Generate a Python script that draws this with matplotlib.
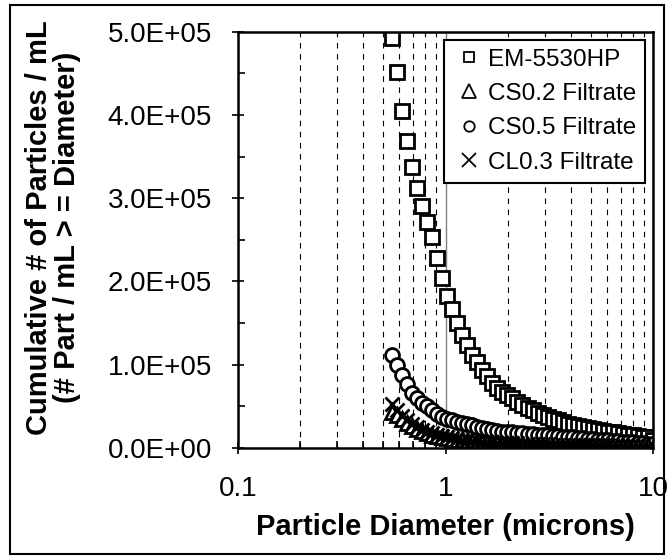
import numpy as np
import matplotlib
matplotlib.use("Agg")
import matplotlib.pyplot as plt
from matplotlib.ticker import FixedLocator, FuncFormatter, MultipleLocator, NullFormatter
from matplotlib.patches import Rectangle

plt.rcParams['font.family'] = ['Liberation Sans', 'DejaVu Sans']

# particle diameter bins (microns)
diameter = [0.550, 0.582, 0.615, 0.650, 0.688, 0.727, 0.769, 0.813, 0.860, 0.909,
            0.961, 1.016, 1.074, 1.136, 1.201, 1.270, 1.343, 1.420, 1.501, 1.587,
            1.679, 1.775, 1.877, 1.984, 2.098, 2.218, 2.345, 2.480, 2.622, 2.773,
            2.932, 3.100, 3.278, 3.465, 3.664, 3.875, 4.097, 4.332, 4.580, 4.843,
            5.121, 5.414, 5.725, 6.053, 6.401, 6.768, 7.156, 7.567, 8.001, 8.459,
            8.945, 9.458, 10.00]

# cumulative counts, thousands of particles / mL
em5530hp = [492, 452, 405, 369, 337, 312, 291, 271, 253, 228,
            204, 182, 167, 150, 135, 124, 112, 103, 94, 86,
            78, 72, 67, 63, 60, 55, 51, 48, 45, 42,
            39, 37, 35, 33, 31, 29, 27.5, 26, 24.5, 23.5,
            22.5, 21.5, 20.5, 19.5, 18.5, 17.5, 16.5, 15.5, 15, 14,
            13.5, 12.5, 10]
cs05 = [112, 99, 88, 77, 66, 60, 54, 50, 45, 41,
        37, 35, 33, 31.5, 30, 28.5, 27, 25.5, 24, 22.5,
        21, 20, 19.5, 19, 18.5, 18, 17.5, 17, 16.5, 16,
        15.5, 15, 14.5, 14, 13.5, 13, 12.5, 12, 11.5, 11,
        10.5, 10, 9.5, 9, 8.5, 8, 7.5, 7, 6.5, 6,
        5.5, 5, 4]
cl03 = [53, 46, 38, 33, 29, 25, 22, 19.5, 17.5, 15.5,
        14, 12.5, 11.5, 10.5, 9.8, 9.2, 8.6, 8.0, 7.5, 7.1,
        6.7, 6.4, 6.1, 5.8, 5.5, 5.3, 5.1, 4.9, 4.7, 4.5,
        4.3, 4.1, 3.9, 3.8, 3.7, 3.6, 3.5, 3.4, 3.3, 3.2,
        3.1, 3.0, 2.9, 2.8, 2.7, 2.6, 2.5, 2.4, 2.3, 2.2,
        2.1, 2.0, 1.8]
cs02 = [43, 40, 35, 30, 26, 23, 20, 18, 16, 14.5,
        13, 11.8, 10.8, 10, 9.3, 8.7, 8.1, 7.6, 7.1, 6.7,
        6.3, 6.0, 5.7, 5.4, 5.2, 5.0, 4.8, 4.6, 4.4, 4.2,
        4.0, 3.9, 3.7, 3.6, 3.5, 3.4, 3.3, 3.2, 3.1, 3.0,
        2.9, 2.8, 2.7, 2.6, 2.5, 2.4, 2.3, 2.2, 2.1, 2.0,
        1.9, 1.8, 1.6]

fig = plt.figure(figsize=(6.68, 5.57), dpi=100)
ax = fig.add_axes([0.356, 0.196, 0.622, 0.747])

ms = 10
ax.plot(diameter, np.array(em5530hp) * 1e3, ls='none', marker='s', ms=ms,
        mfc='white', mec='black', mew=2.0, label='EM-5530HP')
ax.plot(diameter, np.array(cs02) * 1e3, ls='none', marker='^', ms=ms,
        mfc='white', mec='black', mew=2.0, label='CS0.2 Filtrate')
ax.plot(diameter, np.array(cs05) * 1e3, ls='none', marker='o', ms=ms,
        mfc='white', mec='black', mew=2.0, label='CS0.5 Filtrate')
ax.plot(diameter, np.array(cl03) * 1e3, ls='none', marker='x', ms=ms,
        mfc='white', mec='black', mew=2.0, label='CL0.3 Filtrate')

ax.set_xscale('log')
ax.set_xlim(0.1, 10)
ax.set_ylim(0, 5e5)

ax.xaxis.set_major_locator(FixedLocator([0.1, 1, 10]))
ax.xaxis.set_major_formatter(FuncFormatter(lambda v, p: '%g' % v))
ax.xaxis.set_minor_formatter(NullFormatter())
ax.yaxis.set_major_locator(MultipleLocator(1e5))
ax.yaxis.set_minor_locator(MultipleLocator(5e4))
ax.yaxis.set_major_formatter(FuncFormatter(lambda v, p: '%.1E' % v))

ax.tick_params(axis='both', which='major', direction='inout', length=9,
               width=1.2, labelsize=20, pad=14)
ax.tick_params(axis='both', which='minor', direction='in', length=5, width=1.2)
ax.tick_params(axis='x', which='major', pad=16)

ax.grid(True, axis='x', which='minor', color='black', ls=(0, (5, 5)), lw=0.8)
ax.grid(True, axis='x', which='major', color='#808080', ls='-', lw=1.0)
ax.set_axisbelow(True)

for s in ax.spines.values():
    s.set_linewidth(1.8)

ax.set_xlabel('Particle Diameter (microns)', fontsize=21, fontweight='bold',
              labelpad=8)
ax.set_ylabel('Cumulative # of Particles / mL\n(# Part / mL > = Diameter)',
              fontsize=21, fontweight='bold', linespacing=1.0)
ax.yaxis.set_label_coords(-0.378, 0.529)

leg = ax.legend(loc='upper right', fontsize=17.5, frameon=True, fancybox=False,
                edgecolor='black', framealpha=1, borderaxespad=0.33,
                handletextpad=0.15, handlelength=1.3, markerscale=1.0,
                labelspacing=0.51, borderpad=0.36)
leg.get_frame().set_linewidth(1.5)
# legend symbols: square and circle smaller than triangle and cross
for h, size in zip(leg.legend_handles, [7, 9.5, 7.5, 9.5]):
    h.set_markersize(size)
    h.set_markeredgewidth(1.3)

fig.patches.append(Rectangle((10 / 668, 3 / 557), 654 / 668, 549 / 557,
                             transform=fig.transFigure, fill=False,
                             edgecolor='black', lw=1.5))

fig.savefig('out.png', dpi=100)
